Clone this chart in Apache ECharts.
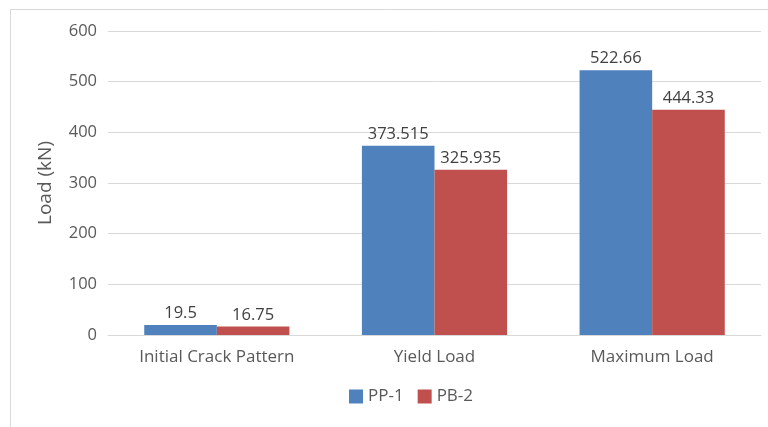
<!DOCTYPE html>
<html><head><meta charset="utf-8">
<script src="https://cdn.jsdelivr.net/npm/echarts@6/dist/echarts.min.js"></script>
<style>html,body{margin:0;padding:0;background:#fff}#c{width:768px;height:427px}</style>
</head><body><div id="c"></div>
<script>
var categories = ['Initial Crack Pattern', 'Yield Load', 'Maximum Load'];
var seriesNames = ['PP-1', 'PB-2'];
var pp1 = [19.5, 373.515, 522.66];
var pb2 = [16.75, 325.935, 444.33];
var yTicks = [0, 100, 200, 300, 400, 500, 600];

var font = '"Open Sans", "Noto Sans", sans-serif';
var chart = echarts.init(document.getElementById('c'));
chart.setOption({
  animation: false,
  textStyle: { fontFamily: font },
  graphic: [{ type: 'rect', shape: { x: 10.5, y: 9.5, width: 800, height: 500 }, style: { fill: 'none', stroke: '#d9d9d9', lineWidth: 1 }, silent: true }],
  grid: { left: 108, right: 7, top: 31, bottom: 92 },
  legend: {
    bottom: 17, left: 344, itemWidth: 14, itemHeight: 14, itemGap: 14,
    icon: 'rect',
    textStyle: { color: '#595959', fontSize: 17, fontFamily: font },
    data: seriesNames
  },
  xAxis: {
    type: 'category', data: categories,
    axisLine: { lineStyle: { color: '#d9d9d9' } },
    axisTick: { show: false },
    axisLabel: { color: '#595959', fontSize: 17, margin: 14, fontFamily: font }
  },
  yAxis: {
    type: 'value', min: yTicks[0], max: yTicks[yTicks.length - 1], interval: 100,
    name: 'Load (kN)', nameLocation: 'middle', nameGap: 53, nameRotate: 90,
    nameTextStyle: { color: '#595959', fontSize: 19, fontFamily: font },
    axisLine: { show: false }, axisTick: { show: false },
    axisLabel: { color: '#595959', fontSize: 16.5, margin: 11, fontFamily: font },
    splitLine: { lineStyle: { color: '#d9d9d9' } }
  },
  series: [
    { name: seriesNames[0], type: 'bar', data: pp1, barGap: '0%', barCategoryGap: '33.3%',
      itemStyle: { color: '#4f81bd' },
      label: { show: true, position: 'top', distance: 3, color: '#404040', fontSize: 16.5, fontFamily: font } },
    { name: seriesNames[1], type: 'bar', data: pb2, barGap: '0%', barCategoryGap: '33.3%',
      itemStyle: { color: '#c0504d' },
      label: { show: true, position: 'top', distance: 3, color: '#404040', fontSize: 16.5, fontFamily: font } }
  ]
});
</script></body></html>
